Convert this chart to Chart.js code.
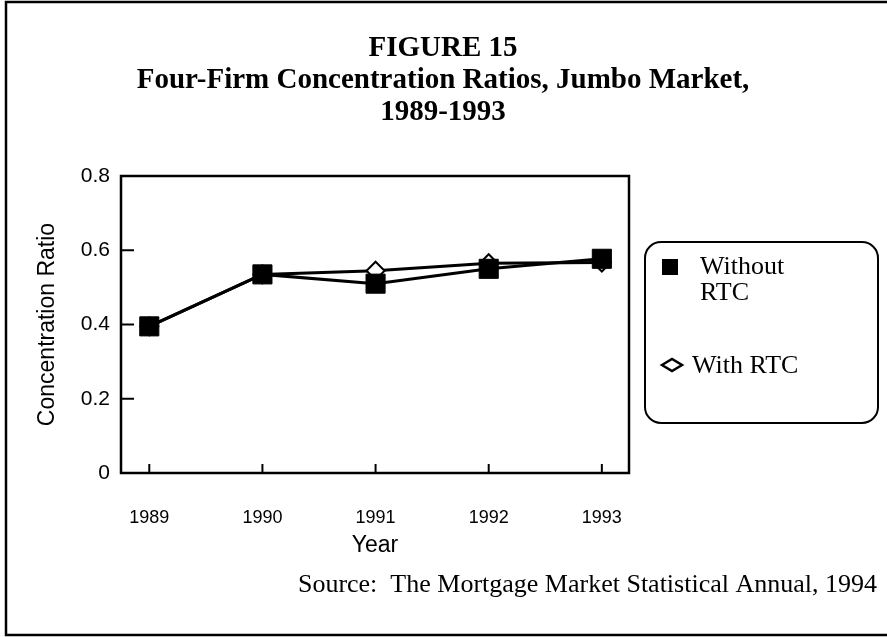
<!DOCTYPE html>
<html>
<head>
<meta charset="utf-8">
<script src="https://cdn.jsdelivr.net/npm/chart.js@4.4.0/dist/chart.umd.min.js"></script>
<style>
  html, body { margin: 0; padding: 0; background: #fff; }
  #wrap { width: 887px; height: 637px; }
</style>
</head>
<body>
<div id="wrap"><canvas id="chart" width="887" height="637"></canvas></div>
<script>
// data
const years = [1989, 1990, 1991, 1992, 1993];
const withoutRTC = [0.395, 0.535, 0.51, 0.55, 0.577];
const withRTC = [0.395, 0.535, 0.545, 0.565, 0.567];
const yTicks = [0, 0.2, 0.4, 0.6, 0.8];

const titleLines = ['FIGURE 15', 'Four-Firm Concentration Ratios, Jumbo Market,', '1989-1993'];
const sourceText = 'Source:  The Mortgage Market Statistical Annual, 1994';
const seriesNames = ['Without RTC', 'With RTC'];

const sans = '"Liberation Sans", Arial, sans-serif';
const serif = '"Liberation Serif", "Times New Roman", serif';

function line(ctx, x1, y1, x2, y2) {
  ctx.beginPath();
  ctx.moveTo(x1, y1);
  ctx.lineTo(x2, y2);
  ctx.stroke();
}

const paper = {
  id: 'paper',
  beforeDraw(chart) {
    const ctx = chart.ctx;
    ctx.save();
    ctx.fillStyle = '#fff';
    ctx.fillRect(0, 0, chart.width, chart.height);
    ctx.restore();
  },
  beforeDatasetsDraw(chart) {
    const { ctx, chartArea: a, scales } = chart;
    ctx.save();
    ctx.strokeStyle = '#000';
    ctx.lineWidth = 2.5;
    ctx.strokeRect(a.left, a.top, a.right - a.left, a.bottom - a.top);
    ctx.lineWidth = 2;
    // inward tick marks
    years.forEach(v => {
      const px = scales.x.getPixelForValue(v);
      line(ctx, px, a.bottom, px, a.bottom - 9);
    });
    yTicks.slice(1, -1).forEach(v => {
      const py = scales.y.getPixelForValue(v);
      line(ctx, a.left, py, a.left + 13, py);
    });
    ctx.restore();
  },
  afterDraw(chart) {
    const ctx = chart.ctx;
    ctx.save();
    ctx.fillStyle = '#000';
    ctx.strokeStyle = '#000';

    // page frame (open on the right)
    ctx.lineWidth = 2.5;
    ctx.beginPath();
    ctx.moveTo(887, 2);
    ctx.lineTo(6, 2);
    ctx.lineTo(6, 635);
    ctx.lineTo(887, 635);
    ctx.stroke();

    // titles
    ctx.textAlign = 'center';
    ctx.textBaseline = 'middle';
    ctx.font = 'bold 29px ' + serif;
    titleLines.forEach((t, i) => ctx.fillText(t, 443, 49 + i * 32));

    // source
    ctx.font = '26px ' + serif;
    ctx.textAlign = 'right';
    ctx.fillText(sourceText, 877, 585);

    // legend box
    const bx = 645, by = 242, bw = 233, bh = 181, r = 16;
    ctx.lineWidth = 2;
    ctx.beginPath();
    ctx.roundRect(bx, by, bw, bh, r);
    ctx.stroke();

    // legend markers
    const ds = chart.data.datasets;
    ctx.fillStyle = ds[0].pointBackgroundColor;
    ctx.fillRect(662, 259, 16, 16);
    ctx.beginPath();
    ctx.moveTo(662, 365);
    ctx.lineTo(672, 359);
    ctx.lineTo(682, 365);
    ctx.lineTo(672, 371);
    ctx.closePath();
    ctx.fillStyle = ds[1].pointBackgroundColor;
    ctx.fill();
    ctx.lineWidth = 2.5;
    ctx.stroke();

    ctx.fillStyle = '#000';
    ctx.font = '26px ' + serif;
    ctx.textAlign = 'left';
    ctx.fillText('Without', 700, 267);
    ctx.fillText('RTC', 700, 293);
    ctx.fillText('With RTC', 692, 366);
    ctx.restore();
  }
};

new Chart(document.getElementById('chart'), {
  type: 'line',
  data: {
    datasets: [
      {
        label: seriesNames[0],
        data: years.map((yr, i) => ({ x: yr, y: withoutRTC[i] })),
        borderColor: '#000',
        borderWidth: 3,
        pointStyle: 'rect',
        pointRadius: 13.5,
        pointBackgroundColor: '#000',
        pointBorderColor: '#000',
        pointBorderWidth: 1
      },
      {
        label: seriesNames[1],
        data: years.map((yr, i) => ({ x: yr, y: withRTC[i] })),
        borderColor: '#000',
        borderWidth: 3,
        pointStyle: 'rectRot',
        pointRadius: 9,
        pointBackgroundColor: '#fff',
        pointBorderColor: '#000',
        pointBorderWidth: 2
      }
    ]
  },
  options: {
    responsive: false,
    animation: false,
    devicePixelRatio: 1,
    layout: { padding: { top: 176, right: 258, left: 0, bottom: 0 } },
    plugins: {
      legend: { display: false },
      tooltip: { enabled: false },
      title: { display: false }
    },
    scales: {
      x: {
        type: 'linear',
        min: 1988.75,
        max: 1993.24,
        afterBuildTicks: s => { s.ticks = years.map(v => ({ value: v })); },
        afterFit: s => { s.height = 164; },
        grid: { display: false },
        border: { display: false },
        ticks: {
          color: '#000',
          font: { family: sans, size: 18 },
          padding: 26,
          maxRotation: 0,
          callback: v => String(v)
        },
        title: {
          display: true,
          text: 'Year',
          color: '#000',
          font: { family: sans, size: 23 },
          padding: { top: 0, bottom: 78 }
        }
      },
      y: {
        min: 0,
        max: 0.8,
        afterBuildTicks: s => { s.ticks = yTicks.map(v => ({ value: v })); },
        afterFit: s => { s.width = 121; },
        grid: { display: false },
        border: { display: false },
        ticks: {
          color: '#000',
          font: { family: sans, size: 21 },
          padding: 3,
          callback: v => (v === 0 ? '0' : v.toFixed(1))
        },
        title: {
          display: true,
          text: 'Concentration Ratio',
          color: '#000',
          font: { family: sans, size: 23 },
          padding: { top: 34, bottom: 0 }
        }
      }
    }
  },
  plugins: [paper]
});
</script>
</body>
</html>
